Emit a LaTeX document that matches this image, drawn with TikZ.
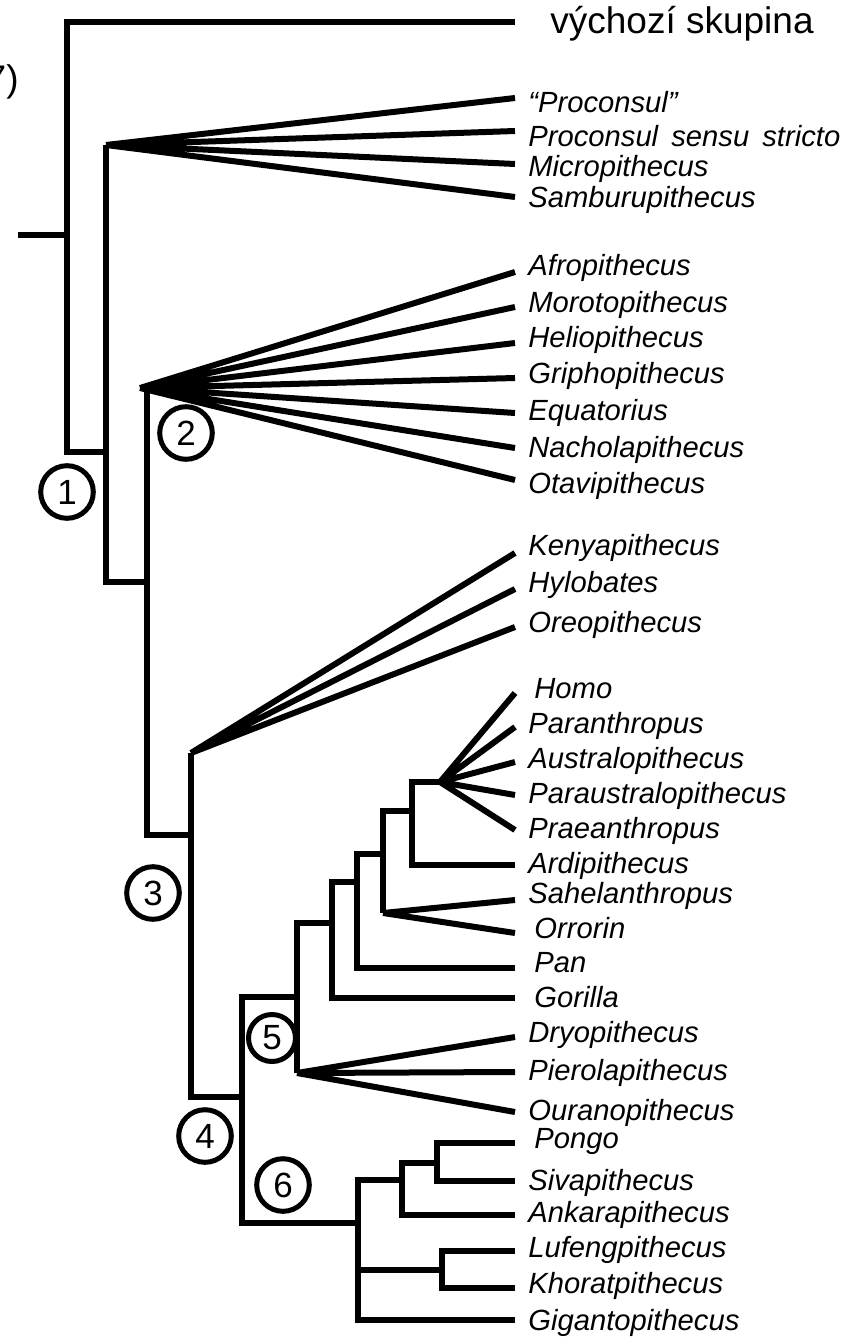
\documentclass[tikz,border=0pt]{standalone}
\usepackage{fontspec}
\setmainfont{Liberation Sans}

\begin{document}
\begin{tikzpicture}[
    x=0.5pt, y=-0.5pt,
    every node/.style={inner sep=0pt},
    branch/.style={line width=3pt, line join=miter},
    taxon/.style={anchor=base west, font=\fontsize{14.6}{17}\selectfont\itshape},
    heading/.style={anchor=base west, font=\fontsize{18.5}{22}\selectfont},
    clade/.style={circle, draw, line width=2.5pt, minimum size=26.3pt, font=\fontsize{17.5}{20}\selectfont},
]
\useasboundingbox (0,0) rectangle (861,1337);

% Cut-off note at the left edge
\node[heading, anchor=base east] (note) at (19,92) {7)};

% Root and outgroup
\coordinate (root) at (18,235);
\coordinate (n0) at (67,235);
\coordinate (out) at (515,22); \node[heading] (out-l) at (550,34) {výchozí skupina};

% Internal nodes (where each stem meets its vertical bar)
\coordinate (n1) at (106,452);
\coordinate (n2) at (147,582);
\coordinate (n3) at (191,835);
\coordinate (n4) at (242,1097);
\coordinate (n5) at (297,997);
\coordinate (n6) at (358,1223);
\coordinate (n7) at (332,923);
\coordinate (n8) at (357,882);
\coordinate (n9) at (383,854);
\coordinate (n10) at (412,811);
\coordinate (n11) at (402,1180);
\coordinate (n12) at (442,1270);
\coordinate (n13) at (437,1163);

% Fan apices
\coordinate (f1) at (106,145);
\coordinate (f2) at (140,388);
\coordinate (f3) at (191,753);
\coordinate (f5) at (297,1073);
\coordinate (f9) at (383,913);
\coordinate (f10) at (440,782);

% Tips and their names
\coordinate (prc) at (515,98);  \node[taxon] (prc-l) at (528,113) {“Proconsul”};
\coordinate (pss) at (515,131); \node[taxon] (pss-l) at (528,147) {\spaceskip=0.45em Proconsul sensu stricto};
\coordinate (mic) at (515,164); \node[taxon] (mic-l) at (528,177) {Micropithecus};
\coordinate (sam) at (515,197); \node[taxon] (sam-l) at (528,208) {Samburupithecus};

\coordinate (afr) at (515,272); \node[taxon] (afr-l) at (528,275) {Afropithecus};
\coordinate (mor) at (515,307); \node[taxon] (mor-l) at (528,312) {Morotopithecus};
\coordinate (hel) at (515,343); \node[taxon] (hel-l) at (528,347) {Heliopithecus};
\coordinate (gri) at (515,378); \node[taxon] (gri-l) at (528,383) {Griphopithecus};
\coordinate (equ) at (515,413); \node[taxon] (equ-l) at (528,420) {Equatorius};
\coordinate (nac) at (515,448); \node[taxon] (nac-l) at (528,457) {Nacholapithecus};
\coordinate (ota) at (515,480); \node[taxon] (ota-l) at (528,493) {Otavipithecus};

\coordinate (ken) at (515,553); \node[taxon] (ken-l) at (528,555) {Kenyapithecus};
\coordinate (hyl) at (515,589); \node[taxon] (hyl-l) at (528,592) {Hylobates};
\coordinate (ore) at (515,627); \node[taxon] (ore-l) at (528,632) {Oreopithecus};

\coordinate (hom) at (515,693);  \node[taxon] (hom-l) at (534,698) {Homo};
\coordinate (par) at (515,727);  \node[taxon] (par-l) at (528,733) {Paranthropus};
\coordinate (aus) at (515,762);  \node[taxon] (aus-l) at (528,768) {Australopithecus};
\coordinate (pau) at (515,795);  \node[taxon] (pau-l) at (528,803) {Paraustralopithecus};
\coordinate (pra) at (515,830);  \node[taxon] (pra-l) at (528,838) {Praeanthropus};
\coordinate (ard) at (515,865);  \node[taxon] (ard-l) at (528,873) {Ardipithecus};
\coordinate (sah) at (515,900);  \node[taxon] (sah-l) at (528,903) {Sahelanthropus};
\coordinate (orr) at (515,933);  \node[taxon] (orr-l) at (534,938) {Orrorin};
\coordinate (pan) at (515,968);  \node[taxon] (pan-l) at (534,972) {Pan};
\coordinate (gor) at (515,998);  \node[taxon] (gor-l) at (534,1007) {Gorilla};
\coordinate (dry) at (515,1037); \node[taxon] (dry-l) at (528,1042) {Dryopithecus};
\coordinate (pie) at (515,1072); \node[taxon] (pie-l) at (528,1080) {Pierolapithecus};
\coordinate (our) at (515,1112); \node[taxon] (our-l) at (528,1120) {Ouranopithecus};
\coordinate (pon) at (515,1143); \node[taxon] (pon-l) at (534,1148) {Pongo};
\coordinate (siv) at (515,1181); \node[taxon] (siv-l) at (528,1190) {Sivapithecus};
\coordinate (ank) at (515,1215); \node[taxon] (ank-l) at (528,1222) {Ankarapithecus};
\coordinate (luf) at (515,1251); \node[taxon] (luf-l) at (528,1257) {Lufengpithecus};
\coordinate (kho) at (515,1288); \node[taxon] (kho-l) at (528,1293) {Khoratpithecus};
\coordinate (gig) at (515,1320); \node[taxon] (gig-l) at (528,1330) {Gigantopithecus};

% Numbered clades
\node[clade] (c1) at (67,492) {1};
\node[clade] (c2) at (186,433) {2};
\node[clade] (c3) at (153,893) {3};
\node[clade] (c4) at (205,1136) {4};
\node[clade, minimum size=23.5pt] (c5) at (272,1038) {5};
\node[clade] (c6) at (283,1185) {6};

% Branches
\draw[branch] (root) -- (n0);
\draw[branch] (n0) |- (out);
\draw[branch] (n0) |- (n1);
\draw[branch] (n1) |- (f1);
\draw[branch] (n1) |- (n2);
\draw[branch] (n2) |- (f2);
\draw[branch] (n2) |- (n3);
\draw[branch] (n3) |- (f3);
\draw[branch] (n3) |- (n4);
\draw[branch] (n4) |- (n5);
\draw[branch] (n4) |- (n6);
\draw[branch] (n5) |- (n7);
\draw[branch] (n5) |- (f5);
\draw[branch] (n7) |- (n8);
\draw[branch] (n7) |- (gor);
\draw[branch] (n8) |- (n9);
\draw[branch] (n8) |- (pan);
\draw[branch] (n9) |- (n10);
\draw[branch] (n9) |- (f9);
\draw[branch] (n10) |- (f10);
\draw[branch] (n10) |- (ard);
\draw[branch] (n6) |- (n11);
\draw[branch] (n6) |- (n12);
\draw[branch] (n6) |- (gig);
\draw[branch] (n11) |- (n13);
\draw[branch] (n11) |- (ank);
\draw[branch] (n13) |- (pon);
\draw[branch] (n13) |- (siv);
\draw[branch] (n12) |- (luf);
\draw[branch] (n12) |- (kho);

% Polytomies
\draw[branch] (f1) -- (prc) (f1) -- (pss) (f1) -- (mic) (f1) -- (sam);
\draw[branch] (f2) -- (afr) (f2) -- (mor) (f2) -- (hel) (f2) -- (gri)
              (f2) -- (equ) (f2) -- (nac) (f2) -- (ota);
\draw[branch] (f3) -- (ken) (f3) -- (hyl) (f3) -- (ore);
\draw[branch] (f10) -- (hom) (f10) -- (par) (f10) -- (aus) (f10) -- (pau) (f10) -- (pra);
\draw[branch] (f9) -- (sah) (f9) -- (orr);
\draw[branch] (f5) -- (dry) (f5) -- (pie) (f5) -- (our);

\end{tikzpicture}
\end{document}
